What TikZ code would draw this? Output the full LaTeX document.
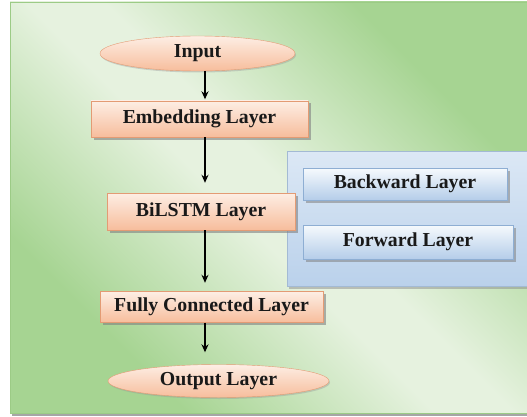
\documentclass[tikz,border=0pt]{standalone}
\usepackage{fontspec}
\setmainfont{Liberation Serif}
\usetikzlibrary{arrows.meta}
\usetikzlibrary{shapes.geometric}
\usetikzlibrary{shadows}
\definecolor{bgdark}{HTML}{A6D492}
\definecolor{bglight}{HTML}{E6F2DF}
\definecolor{bgline}{HTML}{9CCB86}
\definecolor{peachtop}{HTML}{FDEEE4}
\definecolor{peachbot}{HTML}{F7BD9C}
\definecolor{peachline}{HTML}{E39B74}
\definecolor{bluetop}{HTML}{F6FAFD}
\definecolor{bluebot}{HTML}{B5CDE9}
\definecolor{blueline}{HTML}{8EAED3}
\definecolor{paneltop}{HTML}{DCE8F5}
\definecolor{panelbot}{HTML}{BAD1EB}
\definecolor{panelline}{HTML}{A3BAD4}
\pgfdeclarehorizontalshading{bgband}{100bp}{color(0bp)=(bgdark); color(28bp)=(bgdark); color(47bp)=(bglight); color(53bp)=(bglight); color(72bp)=(bgdark); color(100bp)=(bgdark)}

\begin{document}
\begin{tikzpicture}[x=1pt, y=-1pt, >={Stealth[length=8pt,width=7pt]}]
    \fontsize{19.8}{22}\selectfont\bfseries

    % TikZ styles for drawing %%%%%%%%%%%%%%%%%%%%%%%%%%%%%%%%%%%%%%%%%%%%%%%%%%%%%%
    \tikzstyle{peachbox} = [draw=peachline,rectangle,inner sep=0pt,top color=peachtop,bottom color=peachbot,text=black!90,
                            drop shadow={shadow xshift=2.5pt,shadow yshift=-2.5pt,fill=black!50,opacity=0.6}]
    \tikzstyle{peachoval} = [draw=peachline,ellipse,inner sep=0pt,top color=peachtop,bottom color=peachbot,text=black!90,
                             drop shadow={shadow xshift=1pt,shadow yshift=-1.5pt,fill=black!40,opacity=0.4}]
    \tikzstyle{bluebox} = [draw=blueline,rectangle,inner sep=0pt,top color=bluetop,bottom color=bluebot,text=black!90,
                           drop shadow={shadow xshift=2.5pt,shadow yshift=-2.5pt,fill=black!50,opacity=0.55}]
    \tikzstyle{bluepanel} = [draw=panelline,rectangle,inner sep=0pt,top color=paneltop,bottom color=panelbot,
                             drop shadow={shadow xshift=1.5pt,shadow yshift=-2.5pt,fill=black!45,opacity=0.5}]
    \tikzstyle{connector} = [->,line width=1.3pt]

    \useasboundingbox (0,0) rectangle (527,417);

    % Background frame %%%%%%%%%%%%%%%%%%%%%%%%%%%%%%%%%%%%%%%%%%%%%%%%%%%%%%%%%%%%%%%
    \fill[black!35] (12,5) rectangle (530,416);
    \shade[shading=bgband,shading angle=45] (10,2) rectangle (530,413);
    \draw[bgline] (10,2) rectangle (530,413);

    % Bidirectional panel %%%%%%%%%%%%%%%%%%%%%%%%%%%%%%%%%%%%%%%%%%%%%%%%%%%%%%%%%%%%
    \node[bluepanel, minimum width=245pt, minimum height=135pt] (bipanel) at (409.5,218.5) {};
    \node[bluebox, minimum width=204pt, minimum height=32pt] (backward) at (405,184) {Backward Layer};
    \node[bluebox, minimum width=210pt, minimum height=34pt] (forward) at (408,242) {Forward Layer};

    % Main column %%%%%%%%%%%%%%%%%%%%%%%%%%%%%%%%%%%%%%%%%%%%%%%%%%%%%%%%%%%%%%%%%%%%
    \node[peachoval, minimum width=195pt, minimum height=35pt] (input) at (197.5,53.5) {Input};
    \node[peachbox, minimum width=217pt, minimum height=36pt] (embed) at (199.5,119) {Embedding Layer};
    \node[peachbox, minimum width=188pt, minimum height=37pt] (bilstm) at (201,211.5) {BiLSTM Layer};
    \node[peachbox, minimum width=223pt, minimum height=31pt] (dense) at (211.5,307) {Fully Connected Layer};
    \node[peachoval, minimum width=221pt, minimum height=33pt] (output) at (218.5,381) {Output Layer};
    \coordinate (axis) at (205,0);

    % Now link the nodes %%%%%%%%%%%%%%%%%%%%%%%%%%%%%%%%%%%%%%%%%%%%%%%%%%%%%%%%%%%%%%%%
    \draw [connector, shorten >=1.5pt] (input.south -| axis) -- (embed.north -| axis);
    \draw [connector, shorten >=10pt]  (embed.south -| axis) -- (bilstm.north -| axis);
    \draw [connector, shorten >=8.5pt] (bilstm.south -| axis) -- (dense.north -| axis);
    \draw [connector, shorten >=12pt]  (dense.south -| axis) -- (output.north -| axis);

\end{tikzpicture}
\end{document}
